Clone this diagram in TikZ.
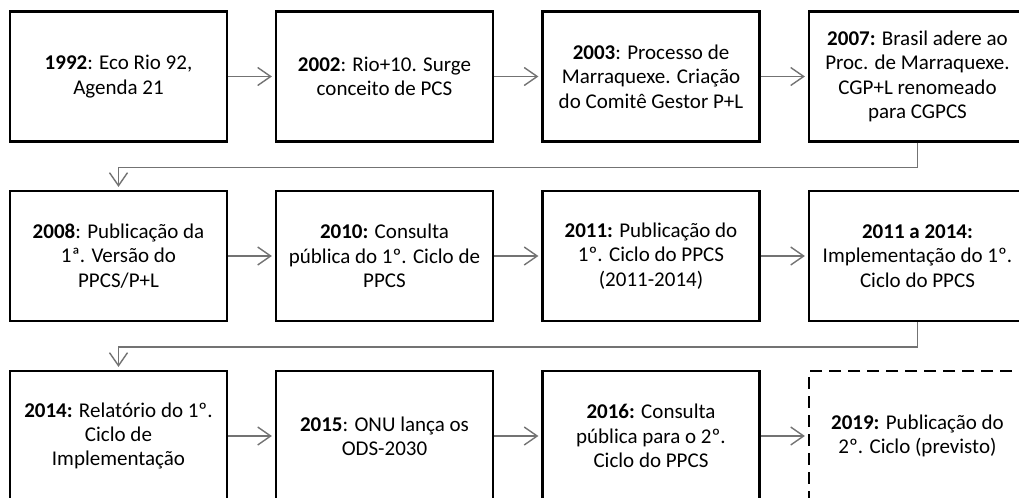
\documentclass[tikz,border=0pt]{standalone}
\usepackage{fontspec}
\setmainfont{Carlito}
\usetikzlibrary{arrows.meta}

\begin{document}
\begin{tikzpicture}[x=0.5pt, y=-0.5pt,
		box/.style={draw=black, line width=1.1pt, minimum width=108.5pt, minimum height=65pt, inner sep=0pt, align=center, font=\fontsize{10.5}{12.2}\selectfont},
		conn/.style={draw=black!55, line width=0.7pt, shorten >=1.5pt, -{Straight Barb[length=6.5pt, width=9pt]}}]
			\useasboundingbox (0,0) rectangle (1019,498);
			\clip (0,0) rectangle (1019,498);
			% first row
			\node[box] (b1992) at (118.5,76.5) {\textbf{1992}: Eco Rio 92,\\Agenda 21};
			\node[box] (b2002) at (384.5,76.5) {\textbf{2002}: Rio+10. Surge\\conceito de PCS};
			\node[box] (b2003) at (651,76.5) {\textbf{2003}: Processo de\\Marraquexe. Criação\\do Comitê Gestor P+L};
			\node[box] (b2007) at (917.5,76.5) {\textbf{2007:} Brasil adere ao\\Proc. de Marraquexe.\\CGP+L renomeado\\para CGPCS};
			% second row
			\node[box] (b2008) at (118.5,256) {\textbf{2008}: Publicação da\\1ª. Versão do\\PPCS/P+L};
			\node[box] (b2010) at (384.5,256) {\textbf{2010:} Consulta\\pública do 1º. Ciclo de\\PPCS};
			\node[box] (b2011) at (651,256) {\textbf{2011:} Publicação do\\1º. Ciclo do PPCS\\(2011-2014)};
			\node[box] (b2014a) at (917.5,256) {\textbf{2011 a 2014:}\\Implementação do 1º.\\Ciclo do PPCS};
			% third row
			\node[box] (b2014) at (118.5,436) {\textbf{2014:} Relatório do 1º.\\Ciclo de\\Implementação};
			\node[box] (b2015) at (384.5,436) {\textbf{2015}: ONU lança os\\ODS-2030};
			\node[box] (b2016) at (651,436) {\textbf{2016:} Consulta\\pública para o 2º.\\Ciclo do PPCS};
			\node[box, dash pattern=on 6pt off 3.5pt] (b2019) at (917.5,436) {\textbf{2019:} Publicação do\\2º. Ciclo (previsto)};
			% arrows
			\draw[conn] (b1992) -- (b2002);
			\draw[conn] (b2002) -- (b2003);
			\draw[conn] (b2003) -- (b2007);
			\draw[conn] (b2007.south) -- ++(0,25) -| (b2008.north);
			\draw[conn] (b2008) -- (b2010);
			\draw[conn] (b2010) -- (b2011);
			\draw[conn] (b2011) -- (b2014a);
			\draw[conn] (b2014a.south) -- ++(0,25) -| (b2014.north);
			\draw[conn] (b2014) -- (b2015);
			\draw[conn] (b2015) -- (b2016);
			\draw[conn] (b2016) -- (b2019);
		\end{tikzpicture}
\end{document}
